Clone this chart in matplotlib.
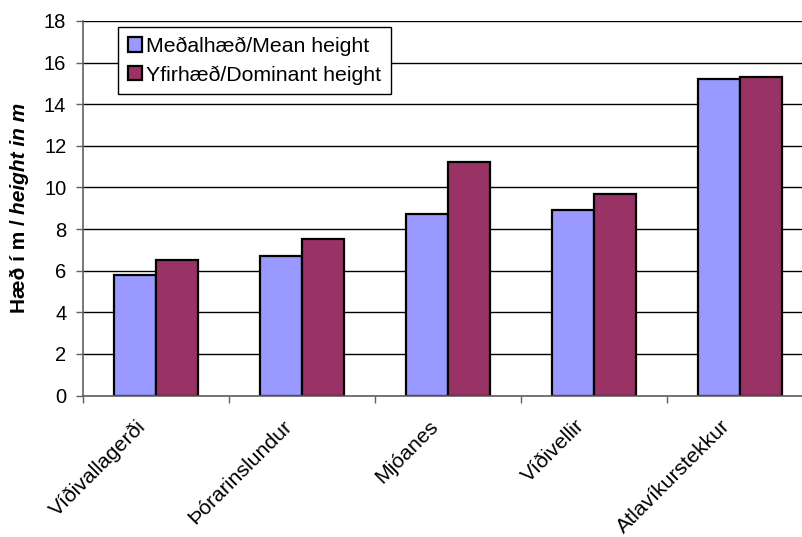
import matplotlib
matplotlib.use("Agg")
import matplotlib.pyplot as plt
import numpy as np
from matplotlib.transforms import ScaledTranslation

plt.rcParams['font.family'] = ['Liberation Sans', 'DejaVu Sans']

categories = ["Víðivallagerði", "Þórarinslundur", "Mjóanes", "Víðivellir", "Atlavíkurstekkur"]
mean_height = [5.8, 6.7, 8.7, 8.9, 15.2]
dominant_height = [6.5, 7.5, 11.2, 9.7, 15.3]
series_labels = ["Meðalhæð/Mean height", "Yfirhæð/Dominant height"]
yticks = [0, 2, 4, 6, 8, 10, 12, 14, 16, 18]

W, H = 802, 537
fig = plt.figure(figsize=(W / 100, H / 100), dpi=100)
ax = fig.add_axes([83 / W, (H - 395.5) / H, 730 / W, 374.5 / H])

x = np.arange(len(categories))
bw = 1 / 3.5
ax.bar(x - bw / 2, mean_height, bw, color="#9999FF", edgecolor="black", linewidth=1.6,
       label=series_labels[0], zorder=3)
ax.bar(x + bw / 2, dominant_height, bw, color="#993366", edgecolor="black", linewidth=1.6,
       label=series_labels[1], zorder=3)

ax.set_xlim(-0.5, len(categories) - 0.5)
ax.set_ylim(0, 18)
ax.set_yticks(yticks)
ax.set_yticklabels([str(v) for v in yticks], fontsize=14.5)
ax.yaxis.grid(True, color="black", linewidth=1.0, zorder=0)

# category boundaries as major ticks (no labels), labels at centers as minor ticks
ax.set_xticks(np.arange(len(categories) + 1) - 0.5)
ax.set_xticklabels([])
ax.set_xticks(x, categories, minor=True, fontsize=15.3, rotation=45, ha="right", va="top")
ax.tick_params(axis="x", which="minor", length=0, pad=15)
ax.tick_params(axis="x", which="major", length=5, width=1, color="#606060", direction="out")
ax.tick_params(axis="y", length=5, width=1, color="#606060", direction="out", pad=7)
for lab in ax.get_xticklabels(minor=True):
    lab.set_transform(lab.get_transform() + ScaledTranslation(-6 / 100, 0, fig.dpi_scale_trans))

for s in ["top", "right"]:
    ax.spines[s].set_visible(False)
for s in ["left", "bottom"]:
    ax.spines[s].set_color("#606060")
    ax.spines[s].set_linewidth(1.2)
    ax.spines[s].set_zorder(4)

leg = ax.legend(loc="upper left", bbox_to_anchor=(35 / 730, 1 - 6 / 374.5), fontsize=15.3,
                frameon=True, fancybox=False, framealpha=1, edgecolor="black",
                handlelength=0.67, handleheight=0.67, handletextpad=0.2, labelspacing=0.45,
                borderpad=0.45, borderaxespad=0)
leg.get_frame().set_linewidth(1.0)
leg.set_zorder(5)

# y label with mixed styles
fig.canvas.draw()
r = fig.canvas.get_renderer()
t1 = fig.text(20 / W, 0.5, "Hæð í m / ", rotation=90, fontsize=15, fontweight="bold",
              ha="center", va="bottom")
t2 = fig.text(20 / W, 0.5, "height in m", rotation=90, fontsize=15, fontweight="bold",
              fontstyle="italic", ha="center", va="bottom")
e1 = t1.get_window_extent(r)
e2 = t2.get_window_extent(r)
total = e1.height + e2.height
center = H - 208
y0 = center - total / 2
t1.set_position((20 / W, y0 / H))
t2.set_position((20 / W, (y0 + e1.height) / H))

fig.savefig("out.png", dpi=100)
